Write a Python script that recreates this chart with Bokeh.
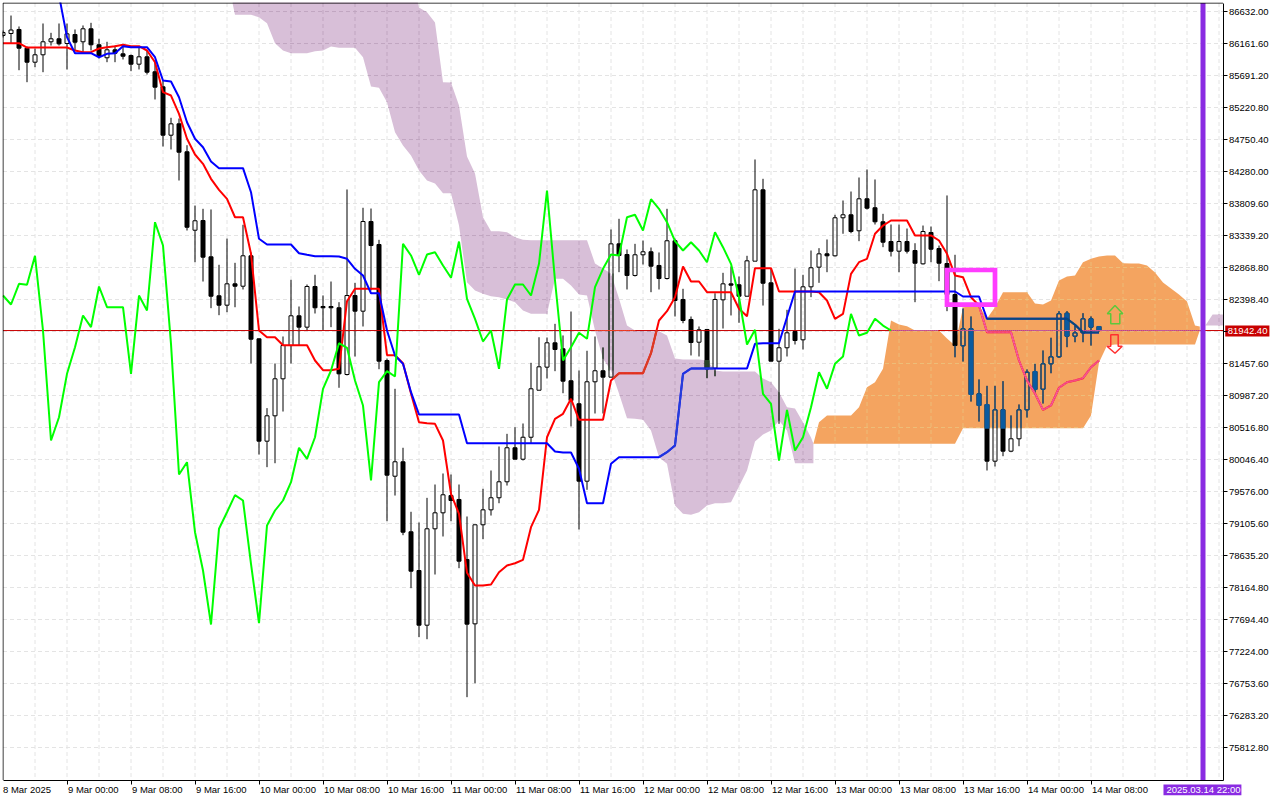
import numpy as np
from bokeh.core.properties import value
from bokeh.embed import file_html
from bokeh.resources import INLINE
from bokeh.plotting import figure
from bokeh.models import LinearAxis, FixedTicker, Range1d

open_ = [86280,86309,86368,86093,85887,85996,86187,86231,86162,86294,86187,86378,86143,85952,86069,86010,85985,85858,85966,85746,85525,84814,84981,84570,83417,83560,83026,82453,82315,82629,82594,83041,81821,80316,80689,81233,81722,82159,81992,82590,82296,82296,82277,81296,82457,82227,83545,83207,81502,79801,80013,78984,78415,77611,79028,79263,79517,79459,78577,77631,79087,79307,79484,79719,80219,80051,80374,81065,81404,81762,81674,81204,80866,79728,81189,81351,81257,83217,83060,82752,83056,83100,82899,82707,83262,82399,82105,81771,81958,81389,82394,82629,82615,82447,82962,84011,82644,81492,81689,81928,81806,82585,82874,83070,83041,83600,83644,83409,83879,83747,83541,83251,83109,83251,83119,82923,83384,83148,82928,82472,81718,81968,81012,80855,80022,80777,80169,80351,80777,81340,81080,81453,81556,82197,81859,81909,82115,82002]
close = [86324,86360,86093,85887,85996,86187,86231,86157,86304,86181,86378,86143,85971,86069,86019,85975,85858,85966,85740,85520,84814,84981,84564,83461,83556,83021,82447,82315,82629,82594,83041,81815,80316,80689,81233,81722,82159,81992,82590,82277,82277,82277,81306,82457,82227,83545,83192,81492,79816,80013,78978,78405,77611,79028,79263,79528,79444,78552,77626,79087,79307,79484,79719,80219,80051,80374,81086,81409,81762,81664,81198,80914,79728,81189,81351,81257,83217,83046,82752,83056,83100,82888,82707,83262,82384,82090,81767,81953,81380,82399,82629,82609,82447,82967,84011,82638,81492,81689,81909,81796,82585,82865,83070,83041,83600,83644,83398,83879,83741,83541,83241,83109,83251,83109,82932,83398,83138,82932,82472,81722,81968,81002,80841,80022,80777,80169,80351,80777,81330,81076,81453,81556,82189,81859,81909,82115,81992,81943]
high = [86353,86573,86412,86118,86088,86456,86319,86456,86456,86368,86427,86466,86231,86187,86132,86132,86000,86107,86059,85912,85618,85070,85059,84667,83780,83732,83722,82909,83295,82938,83497,83090,81825,80802,81458,81855,82688,82296,82619,82762,82458,82663,82359,84016,82644,83747,83736,83276,81531,81086,80219,79278,79121,79483,79679,79841,79826,79679,79209,79091,79616,79885,80238,80424,80521,80576,81468,81844,81840,82041,81870,82222,81355,81645,81855,81693,83428,83585,83134,83217,83266,83163,83090,83732,83295,82556,82149,82002,81958,82491,82791,82884,82737,83041,84457,84173,82854,81968,82247,82854,82762,83119,83153,83281,83644,83854,83986,84192,84310,84163,83658,83501,83501,83442,83226,83486,83472,83192,83928,83056,82266,82149,81223,81129,81129,81198,80694,80855,81370,81453,81649,81836,82227,82227,82016,82197,82149,82002]
low = [86250,86166,85769,85593,85814,85740,86132,86132,85780,86059,86034,86059,85941,85887,85887,85927,85755,85780,85706,85339,84648,84604,84148,83413,82947,82663,82271,82168,82212,82285,82546,81458,80120,79934,79992,80752,81458,81722,81943,82193,81943,81992,81101,81282,81561,82002,82531,81374,79140,79517,78934,78155,77435,77405,78356,78915,79140,78449,76553,76758,78875,79223,79404,79664,80051,80032,80282,81065,81237,81345,81021,80532,79018,79601,80723,80723,81257,82800,82546,82737,82913,82506,82546,82693,82149,82050,81576,81561,81242,81271,81972,82164,82056,82443,82962,82310,81492,80571,81561,81737,81664,82433,82644,82800,83031,83365,83373,83256,83722,83501,83168,83031,82800,83075,82359,82913,82947,82668,82227,81550,81487,80899,80605,79885,79944,80095,80154,80242,80664,81002,80870,81315,81542,81698,81771,81771,81722,81928]

tenkan = [86166,86166,86166,86103,86103,86103,86103,86103,86103,86059,86034,86034,86088,86107,86122,86143,86122,86122,86059,85887,85446,85397,85128,84761,84530,84393,84173,84011,83879,83608,83608,83070,81943,81844,81844,81727,81727,81727,81727,81502,81359,81359,81380,82374,82556,82556,82556,82556,81580,81580,81462,81017,80595,80580,80571,80326,79542,79248,78381,78195,78195,78209,78390,78489,78522,78572,79052,79307,80374,80645,80718,80939,80630,80630,80630,80630,81208,81315,81315,81315,81315,81609,82090,82227,82432,82884,82663,82663,82506,82506,82506,82506,82262,82153,82859,82859,82859,82516,82516,82516,82516,82516,82506,82384,82115,82188,82776,82947,82997,83365,83486,83560,83560,83560,83340,83340,83340,83266,83070,82752,82726,82432,82310,81918,81918,81918,81918,81502,81208,81017,80777,80841,81101,81183,81208,81242,81403,81502]
kijun_first_bar = 7
kijun = [86868,86255,86019,86019,86019,85960,86010,86019,86122,86107,86107,86107,85960,85618,85603,85372,85005,84761,84637,84427,84329,84329,84329,84329,83976,83291,83207,83207,83207,83207,83079,83056,83035,83035,83035,83031,82997,82850,82752,82491,82491,81943,81576,81453,81036,80708,80708,80708,80708,80708,80708,80286,80286,80286,80286,80286,80286,80286,80286,80286,80286,80286,80164,80150,80150,79910,79404,79404,79404,79983,80081,80081,80081,80081,80081,80081,80154,80253,81306,81384,81384,81384,81384,81384,81384,81384,81384,81747,81756,81756,81756,82138,82516,82516,82516,82516,82516,82516,82516,82516,82516,82516,82516,82516,82516,82516,82516,82516,82516,82516,82516,82516,82516,82443,82443,82443,82115,82115,82115,82115,82115,82115,82115,82115,82115,82115,82115,82027,81914,81914,81914]
chikou = [82457,82325,82629,82615,83041,81943,80326,80668,81306,81698,82163,81992,82590,82285,82285,82285,81306,82457,82237,83535,83192,81747,79826,80007,78978,78415,77621,79028,79272,79522,79444,78513,77640,79076,79297,79444,79713,80219,80057,80374,81086,81355,81756,81689,81208,80840,79738,81183,81345,81267,83217,83046,82762,83060,83094,82899,82718,83251,82409,82115,81781,81943,81380,82399,82619,82619,82457,82923,84001,82678,81502,81698,81909,81821,82580,82850,83060,83046,83608,83644,83413,83873,83732,83535,83256,83119,83241,83119,82947,83388,83168,82923,82432,81737,81953,81012,80865,80032,80777,80179,80374,80816,81330,81086,81453,81561,82188,81869,81909,82115,82016,81943]

# Bearish (thistle) cloud, bar positions 28.7, 29 .. 101, 101.3
bear_x = [28.7] + list(range(29, 102)) + [101.3]
bear_top = [86750,87200,87200,87200,87200,87200,87200,87200,87200,87200,87200,87200,87200,87200,87200,87200,87200,87200,87200,87200,87200,87200,87200,87200,86691,86622,86471,85593,85589,85250,84501,84251,83608,83403,83403,83388,83314,83276,83270,83270,83270,83270,83270,83270,83270,83270,82928,82854,82781,82413,82016,81943,81933,81933,81933,81870,81531,81517,81517,81517,81502,81355,81340,81340,81340,81340,81340,81237,81183,81036,80816,80796,80595,80370,80282]
bear_bot = [86750,86584,86584,86584,86548,86460,86166,86059,86019,86019,86019,86049,86059,86118,86099,86099,86099,85960,85530,85511,85299,84858,84662,84516,84295,84148,84104,83961,83961,83486,82653,82531,82482,82447,82432,82399,82359,82237,82188,82188,82188,82703,82703,82604,82472,82457,81943,81527,81355,81017,80654,80645,80630,80473,80081,79983,79370,79248,79234,79272,79370,79404,79404,79419,79650,79885,80311,80414,80473,80620,80473,79992,79992,79992,79992]
# Bullish (sandy brown) cloud, bar positions 101.3, 102 .. 149, 149.6
bull_x = [101.3] + list(range(102, 150)) + [149.6]
bull_top = [80278,80595,80694,80694,80694,80694,80816,81109,81183,81380,82090,82031,82006,81943,81943,81943,81943,81825,81722,82281,82310,82310,82119,82285,82506,82506,82506,82506,82340,82325,82384,82678,82737,82752,82947,82997,83031,83045,83045,82932,82928,82928,82899,82796,82649,82560,82472,82369,82016,82002]
bull_bot = [80278,80278,80278,80278,80278,80278,80278,80278,80278,80278,80278,80278,80278,80278,80278,80278,80278,80278,80278,80507,80507,80507,80507,80507,80507,80507,80507,80507,80507,80507,80507,80507,80507,80507,80507,80694,81473,81722,81737,81737,81737,81737,81737,81737,81737,81737,81737,81737,81737,81943]
# Second bearish patch right of the cycle line
bear2_x = [150.3, 151.2, 152.5]
bear2_top = [82016, 82178, 82178]
bear2_bot = [82016, 82016, 82016]

bar_labels = ["9 Mar 00:00","9 Mar 08:00","9 Mar 16:00","10 Mar 00:00","10 Mar 08:00","10 Mar 16:00","11 Mar 00:00","11 Mar 08:00","11 Mar 16:00","12 Mar 00:00","12 Mar 08:00","12 Mar 16:00","13 Mar 00:00","13 Mar 08:00","13 Mar 16:00","14 Mar 00:00","14 Mar 08:00"]
bar_label_pos = [8,16,24,32,40,48,56,64,72,80,88,96,104,112,120,128,136]
first_label = "8 Mar 2025"
price_ticks = [86632.0,86161.6,85691.2,85220.8,84750.4,84280.0,83809.6,83339.2,82868.8,82398.4,81928.0,81457.6,80987.2,80516.8,80046.4,79576.0,79105.6,78635.2,78164.8,77694.4,77224.0,76753.6,76283.2,75812.8]
last_price = 81942.40
last_price_label = "81942.40"
cursor_bar = 150
cursor_label = "2025.03.14 22:00"
box_bars = [118, 124]
box_prices = [82322, 82832]
arrow_up_x = [139,139.98,139.6,139.6,138.47,138.47,138.04]
arrow_up_y = [82310,82188,82188,82041,82041,82188,82188]
arrow_dn_x = [138.47,139.4,139.4,139.9,139,138.0,138.47]
arrow_dn_y = [81880,81880,81712,81712,81609,81712,81712]

THISTLE, SANDY = "#D8BFD8", "#F4A460"
GRID = "#E4E4E4"
ALT = {  # colours the terminal's XOR drawing gives over each cloud: (thistle, sandy)
    "#000000": ("#274027", "#0B5B9F"),
    "#FF0000": ("#D84027", "#F45B9F"),
    "#0000FF": ("#2740D8", "#0B5B60"),
    "#C80000": ("#EF4027", "#C35B9F"),
    GRID: ("#C1A6C1", "#EDBD79"),
}
# The frame runs past the chart area on the right and below, so that the tag boxes can be drawn in it.
X_LEFT, X_FRAME_RIGHT = -0.0625, 158.6875
CHART_RIGHT = 152.5
Y_TOP, Y_FRAME_BOTTOM = 86764.6, 75092.8
CHART_BOTTOM = 75335
CHART_TOP = 86757
LABEL_FONT = "Liberation Sans"
LABEL_SIZE = "9.5px"

p = figure(frame_width=1270, frame_height=794, output_backend="svg", toolbar_location=None,
           x_axis_type=None, y_axis_type=None,
           x_range=Range1d(X_LEFT, X_FRAME_RIGHT), y_range=Range1d(Y_FRAME_BOTTOM, Y_TOP),
           min_border_left=2, min_border_right=0, min_border_top=2, min_border_bottom=0,
           background_fill_color="white", outline_line_color=None)

xaxis = LinearAxis(ticker=FixedTicker(ticks=bar_label_pos), fixed_location=CHART_BOTTOM, bounds=(0, CHART_RIGHT),
                   major_tick_out=4, major_tick_in=0,
                   major_label_text_font=LABEL_FONT, major_label_text_font_size=LABEL_SIZE,
                   major_label_overrides={t: "" for t in bar_label_pos},
                   minor_tick_line_color=None, axis_line_color="black", major_tick_line_color="black")
p.add_layout(xaxis, "below")
yaxis = LinearAxis(ticker=FixedTicker(ticks=price_ticks), fixed_location=CHART_RIGHT, bounds=(CHART_BOTTOM, CHART_TOP),
                   major_tick_out=4, major_tick_in=0,
                   minor_tick_line_color=None, axis_line_color="black", major_tick_line_color="black",
                   major_label_text_font=LABEL_FONT, major_label_text_font_size=LABEL_SIZE,
                   major_label_standoff=2, major_label_text_color="black",
                   major_label_overrides={t: ("" if t == 81928.0 else f"{t:.2f}") for t in price_ticks})
p.add_layout(yaxis, "right")

x_grid_pos = list(range(4, 153, 4))
p.segment(x_grid_pos, CHART_TOP, x_grid_pos, CHART_BOTTOM, line_color=GRID, line_dash="4 3", line_width=1, level="image")
p.segment(0, price_ticks, CHART_RIGHT, price_ticks, line_color=GRID, line_dash="4 3", line_width=1, level="image")

for xs, t, b, col in [(bear_x, bear_top, bear_bot, THISTLE), (bull_x, bull_top, bull_bot, SANDY), (bear2_x, bear2_top, bear2_bot, THISTLE)]:
    p.varea(x=xs, y1=b, y2=t, fill_color=col, level="underlay")

def band(i):
    """Returns (thistle (lo, hi) or None, sandy (lo, hi) or None) at bar position i."""
    res = []
    for sets in ([(bear_x, bear_top, bear_bot), (bear2_x, bear2_top, bear2_bot)], [(bull_x, bull_top, bull_bot)]):
        r = None
        for xs, t, b in sets:
            if xs[0] <= i <= xs[-1]:
                r = (float(np.interp(i, xs, b)), float(np.interp(i, xs, t)))
        res.append(r)
    return res

def clip(a, b, r):
    if r is None:
        return None
    lo, hi = max(min(a, b), r[0]), min(max(a, b), r[1])
    return (lo, hi) if hi > lo else None

def xor_segments(xv, yv, base, width, steps=10):
    """Draws the parts of a polyline over a cloud in the colour the XOR drawing gives."""
    out = {0: ([], [], [], []), 1: ([], [], [], [])}
    for k in range(len(xv) - 1):
        fx = np.linspace(xv[k], xv[k + 1], steps + 1)
        fy = np.linspace(yv[k], yv[k + 1], steps + 1)
        for j in range(steps):
            mx, my = (fx[j] + fx[j + 1]) / 2, (fy[j] + fy[j + 1]) / 2
            bands = band(mx)
            for cc in (0, 1):
                r = bands[cc]
                if r and r[0] <= my <= r[1]:
                    o_ = out[cc]
                    o_[0].append(fx[j]); o_[1].append(fy[j]); o_[2].append(fx[j + 1]); o_[3].append(fy[j + 1])
    for cc in (0, 1):
        o_ = out[cc]
        if o_[0]:
            p.segment(o_[0], o_[1], o_[2], o_[3], line_color=ALT[base][cc], line_width=width)

def xor_dashes(xv, yv):
    """Grid dashes over a cloud: 4 px on, 3 px off, along one grid line."""
    n = int(abs(xv[1] - xv[0]) * 8 + abs(yv[1] - yv[0]) / 14.7)
    fx = np.linspace(xv[0], xv[1], n + 1)
    fy = np.linspace(yv[0], yv[1], n + 1)
    out = {0: ([], [], [], []), 1: ([], [], [], [])}
    for j in range(n):
        if j % 7 >= 4:
            continue
        bands = band((fx[j] + fx[j + 1]) / 2)
        my = (fy[j] + fy[j + 1]) / 2
        for cc in (0, 1):
            r = bands[cc]
            if r and r[0] <= my <= r[1]:
                o_ = out[cc]
                o_[0].append(fx[j]); o_[1].append(fy[j]); o_[2].append(fx[j + 1]); o_[3].append(fy[j + 1])
    return out

gridparts = {0: ([], [], [], []), 1: ([], [], [], [])}
for gx in x_grid_pos:
    parts = xor_dashes([gx, gx], [CHART_TOP, CHART_BOTTOM])
    for cc in (0, 1):
        for a, b in zip(gridparts[cc], parts[cc]):
            a.extend(b)
for gy in price_ticks:
    parts = xor_dashes([0, CHART_RIGHT], [gy, gy])
    for cc in (0, 1):
        for a, b in zip(gridparts[cc], parts[cc]):
            a.extend(b)
for cc in (0, 1):
    g = gridparts[cc]
    p.segment(g[0], g[1], g[2], g[3], line_color=ALT[GRID][cc], line_width=1)

idx = np.arange(len(open_))
o, h, l, c = map(np.array, (open_, high, low, close))
bull = c >= o
BODY = 0.5
# wicks skip the hollow bodies, which show what lies behind them
wx, wy0, wy1 = [], [], []
for i in idx:
    lo_b, hi_b = min(o[i], c[i]), max(o[i], c[i])
    if bull[i]:
        wx += [i, i]; wy0 += [h[i], lo_b]; wy1 += [hi_b, l[i]]
    else:
        wx += [i]; wy0 += [h[i]]; wy1 += [l[i]]
p.segment(wx, wy0, wx, wy1, line_color="#000000", line_width=1)
p.vbar(idx[~bull], BODY, o[~bull], c[~bull], fill_color="#000000", line_color="#000000", line_width=1)
p.vbar(idx[bull], BODY, o[bull], c[bull], fill_color=None, line_color="#000000", line_width=1)

ov = {0: dict(x0=[], y0=[], x1=[], y1=[]), 1: dict(x0=[], y0=[], x1=[], y1=[])}
ovb = {0: dict(x=[], top=[], bottom=[]), 1: dict(x=[], top=[], bottom=[])}
for i in idx:
    bands = band(int(i))
    for cc in (0, 1):
        r = bands[cc]
        w = clip(h[i], l[i], r)
        if w:
            lo_b, hi_b = min(o[i], c[i]), max(o[i], c[i])
            parts = [(w[0], min(w[1], lo_b)), (max(w[0], hi_b), w[1])] if bull[i] else [w]
            for a, b in parts:
                if b > a:
                    ov[cc]["x0"].append(i); ov[cc]["y0"].append(a); ov[cc]["x1"].append(i); ov[cc]["y1"].append(b)
        bd = clip(o[i], c[i], r)
        if bd:
            if bull[i]:
                for s in (-BODY / 2, BODY / 2):
                    ov[cc]["x0"].append(i + s); ov[cc]["y0"].append(bd[0]); ov[cc]["x1"].append(i + s); ov[cc]["y1"].append(bd[1])
                for edge in (o[i], c[i]):
                    if r[0] <= edge <= r[1]:
                        ov[cc]["x0"].append(i - BODY / 2); ov[cc]["y0"].append(edge); ov[cc]["x1"].append(i + BODY / 2); ov[cc]["y1"].append(edge)
            else:
                ovb[cc]["x"].append(i); ovb[cc]["top"].append(bd[1]); ovb[cc]["bottom"].append(bd[0])
for cc in (0, 1):
    col = ALT["#000000"][cc]
    p.segment(line_color=col, line_width=1, **ov[cc])
    p.vbar(width=BODY, fill_color=col, line_color=col, line_width=1, **ovb[cc])

# current price line
px = [0, CHART_RIGHT]
p.line(px, [last_price, last_price], line_color="#C80000", line_width=1)
xor_segments(px, [last_price, last_price], "#C80000", 1, steps=600)

t_idx = list(range(len(tenkan)))
k_idx = list(range(kijun_first_bar, kijun_first_bar + len(kijun)))
ch_idx = list(range(len(chikou)))
p.line(t_idx, tenkan, line_color="#FF0000", line_width=2)
xor_segments(t_idx, tenkan, "#FF0000", 2)
p.line(k_idx, kijun, line_color="#0000FF", line_width=2)
xor_segments(k_idx, kijun, "#0000FF", 2)
p.line(ch_idx, chikou, line_color="#00FF00", line_width=2)

p.patch(arrow_up_x, arrow_up_y, fill_alpha=0, line_color="#5CC83C", line_width=1.5)
p.patch(arrow_dn_x, arrow_dn_y, fill_alpha=0, line_color="#FF3030", line_width=1.5)

p.quad(left=[box_bars[0]], right=[box_bars[1]], bottom=[box_prices[0]], top=[box_prices[1]],
       fill_alpha=0, line_color="#FF3CFF", line_width=4.7, line_join="miter")

# cycle line and the chart's left and top edges
p.segment([cursor_bar], [CHART_BOTTOM], [cursor_bar], [CHART_TOP], line_color="#8A2BE2", line_width=5, line_cap="butt")
p.segment([0, 0], [CHART_TOP, CHART_TOP], [CHART_RIGHT, 0], [CHART_TOP, CHART_BOTTOM], line_color="black", line_width=1)

# tags and date labels
label_y = 75196
text_kw = dict(text_font=value(LABEL_FONT), text_font_size=value(LABEL_SIZE), text_baseline="middle", text_align="left")
p.text(x=[0] + [b + 0.12 for b in bar_label_pos], y=label_y, text=[first_label] + bar_labels, text_color="black", **text_kw)
p.quad(left=[145.06], right=[154.8], bottom=[75112], top=[75269], fill_color="#8A2BE2", line_color=None)
p.text(x=[145.44], y=label_y, text=[cursor_label], text_color="white", **text_kw)
p.quad(left=[152.78], right=[158.3], bottom=[81855], top=[82016], fill_color="#C80000", line_color=None)
p.text(x=[153.1], y=[last_price], text=[last_price_label], text_color="white", **text_kw)

open("out.html", "w").write(file_html(p, INLINE))
